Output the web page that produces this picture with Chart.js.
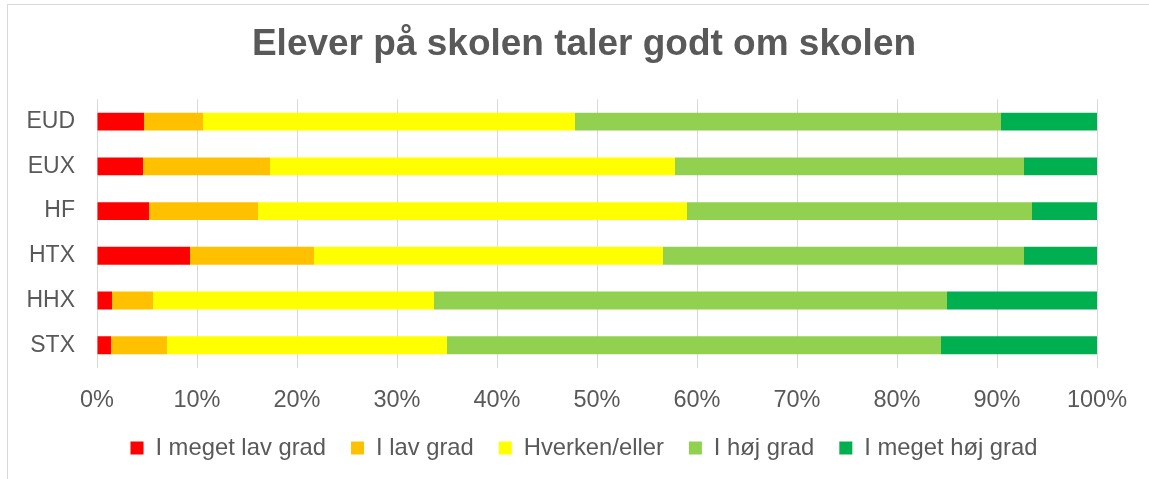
<!DOCTYPE html>
<html>
<head>
<meta charset="utf-8">
<script src="https://cdn.jsdelivr.net/npm/chart.js@4"></script>
<style>
  html, body { margin: 0; padding: 0; background: #ffffff; overflow: hidden; width: 1149px; height: 479px; }
  #frame { position: absolute; left: 7px; top: 4px; width: 1300px; height: 600px; border-left: 1px solid #d9d9d9; border-top: 1px solid #d9d9d9; }
  #c { position: absolute; left: 0; top: 0; }
</style>
</head>
<body>
<div id="frame"></div>
<canvas id="c" width="1168" height="479"></canvas>
<script>
const titleText = 'Elever på skolen taler godt om skolen';
const categories = ['EUD', 'EUX', 'HF', 'HTX', 'HHX', 'STX'];
const seriesNames = ['I meget lav grad', 'I lav grad', 'Hverken/eller', 'I høj grad', 'I meget høj grad'];
const megetLavGrad = [4.7, 4.6, 5.2, 9.3, 1.5, 1.4];
const lavGrad = [5.9, 12.7, 10.9, 12.4, 4.1, 5.6];
const hverkenEller = [37.2, 40.5, 42.9, 34.9, 28.1, 28.0];
const hoejGrad = [42.6, 34.9, 34.5, 36.1, 51.3, 49.4];
const megetHoejGrad = [9.6, 7.3, 6.5, 7.3, 15.0, 15.6];
const xTickLabels = ['0%', '10%', '20%', '30%', '40%', '50%', '60%', '70%', '80%', '90%', '100%'];
const seriesColors = ['#FF0000', '#FFC000', '#FFFF00', '#92D050', '#00B050'];

const seriesValues = [megetLavGrad, lavGrad, hverkenEller, hoejGrad, megetHoejGrad];
const FONT = '"Liberation Sans", Arial, sans-serif';
const TXT = '#595959';

new Chart(document.getElementById('c'), {
  type: 'bar',
  data: {
    labels: categories,
    datasets: seriesNames.map((name, i) => ({
      label: name,
      data: seriesValues[i],
      backgroundColor: seriesColors[i],
      borderWidth: 0,
      categoryPercentage: 0.8,
      barPercentage: 0.5
    }))
  },
  options: {
    indexAxis: 'y',
    responsive: false,
    animation: false,
    devicePixelRatio: 1,
    layout: { padding: { left: 0, right: 0, top: 0, bottom: 9 } },
    plugins: {
      title: {
        display: true,
        text: titleText,
        color: TXT,
        font: { family: FONT, size: 37, weight: 'bold', lineHeight: 1.2 },
        padding: { top: 22.8, bottom: 32.1 }
      },
      legend: {
        position: 'bottom',
        labels: {
          color: TXT,
          font: { family: FONT, size: 23.8, lineHeight: 1.2 },
          boxWidth: 13,
          boxHeight: 13,
          padding: 25
        }
      },
      tooltip: { enabled: false }
    },
    scales: {
      x: {
        stacked: true,
        min: 0,
        max: 100,
        border: { display: false },
        grid: { color: '#d9d9d9', lineWidth: 1, drawTicks: false },
        ticks: {
          stepSize: 10,
          color: TXT,
          padding: 19,
          font: { family: FONT, size: 23.5, lineHeight: 1.2 },
          callback: (v, i) => xTickLabels[i]
        },
        afterFit: (scale) => { scale.height = 43.6; }
      },
      y: {
        stacked: true,
        border: { display: false },
        grid: { display: false, drawTicks: false },
        ticks: {
          color: TXT,
          padding: 22,
          font: { family: FONT, size: 23, lineHeight: 1.2 }
        },
        afterFit: (scale) => { scale.width = 97; }
      },
      ySpacer: {
        type: 'category',
        axis: 'y',
        position: 'right',
        labels: categories,
        border: { display: false },
        grid: { display: false, drawTicks: false },
        ticks: { display: false },
        afterFit: (scale) => { scale.width = 71; }
      }
    }
  }
});
</script>
</body>
</html>
